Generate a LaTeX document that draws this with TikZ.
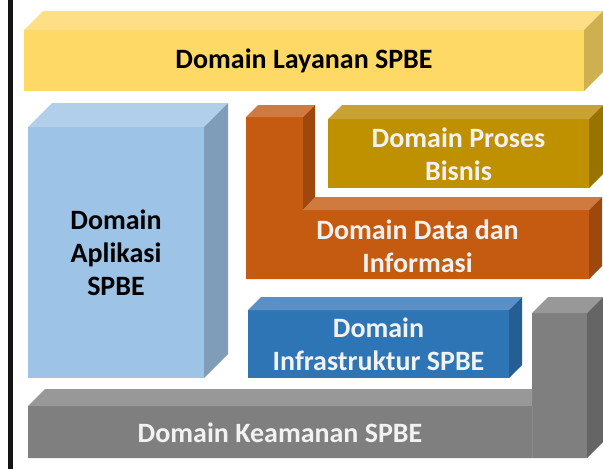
\documentclass[tikz,border=0pt]{standalone}
\usepackage{fontspec}
\setmainfont{Carlito}
\definecolor{ylF}{HTML}{FED966}
\definecolor{ylT}{HTML}{FEDF85}
\definecolor{ylS}{HTML}{CFB050}
\definecolor{lbF}{HTML}{9DC3E6}
\definecolor{lbT}{HTML}{B1CFEA}
\definecolor{lbS}{HTML}{7F9DB8}
\definecolor{orF}{HTML}{C55A11}
\definecolor{orT}{HTML}{D07A40}
\definecolor{orS}{HTML}{9E480E}
\definecolor{gdF}{HTML}{BF9000}
\definecolor{gdT}{HTML}{C9A331}
\definecolor{gdS}{HTML}{997300}
\definecolor{blF}{HTML}{2E75B6}
\definecolor{blT}{HTML}{5A90C6}
\definecolor{blS}{HTML}{255E92}
\definecolor{grF}{HTML}{7F7F7F}
\definecolor{grT}{HTML}{989898}
\definecolor{grS}{HTML}{656565}
\definecolor{txtW}{HTML}{F2F2F2}
\newcommand\prismbox[8]{%
  \fill[#6] (#1,#2) rectangle (#3,#4);
  \fill[#7] (#1,#2) -- ++(#5,-#5) -- (#3+#5,#2-#5) -- (#3,#2) -- cycle;
  \fill[#8] (#3,#2) -- (#3+#5,#2-#5) -- (#3+#5,#4-#5) -- (#3,#4) -- cycle;}
\begin{document}
\begin{tikzpicture}[x=1pt,y=-1pt,
  lbl/.style={font=\bfseries\fontsize{28}{33}\selectfont, align=center, inner sep=0pt},
  lblw/.style={lbl, text=txtW}]
\useasboundingbox (0,0) rectangle (603,469);
\fill[black!92] (8,0) rectangle (12.5,469);
% Layanan
\prismbox{24}{30}{584}{91}{19}{ylF}{ylT}{ylS}
% Aplikasi
\prismbox{28}{127}{204}{378}{24}{lbF}{lbT}{lbS}
% Data dan Informasi (L shape)
\fill[orF] (246,117) -- (303,117) -- (303,210) -- (589,210) -- (589,279) -- (246,279) -- cycle;
\fill[orT] (246,117) -- (258,105) -- (315,105) -- (303,117) -- cycle;
\fill[orS] (303,117) -- (315,105) -- (315,198) -- (303,210) -- cycle;
\fill[orT] (303,210) -- (315,197) -- (602,197) -- (589,210) -- cycle;
\fill[orS] (589,210) -- (602,197) -- (602,266) -- (589,279) -- cycle;
% Proses Bisnis
\prismbox{328}{119}{589}{188}{14}{gdF}{gdT}{gdS}
% Infrastruktur
\prismbox{248}{310}{509}{378}{13}{blF}{blT}{blS}
% Keamanan (L shape)
\fill[grF] (28,406) -- (532,406) -- (532,313) -- (587,313) -- (587,458) -- (28,458) -- cycle;
\fill[grT] (28,406) -- (45,389) -- (532,389) -- (532,406) -- cycle;
\fill[grT] (532,313) -- (548,297) -- (603,297) -- (587,313) -- cycle;
\fill[grS] (587,313) -- (603,297) -- (603,442) -- (587,458) -- cycle;
\draw[color=grF!92!white, line width=0.6pt] (532,406) -- (532,458);
% labels
\node[lbl] (layanan) at (304,61) {Domain Layanan SPBE};
\node[lbl] (aplikasi) at (116,253) {Domain\\Aplikasi\\SPBE};
\node[lblw] (proses) at (458.5,154) {Domain Proses\\Bisnis};
\node[lblw] (data) at (417.5,246) {Domain Data dan\\Informasi};
\node[lblw] (infra) at (378.5,344) {Domain\\Infrastruktur SPBE};
\node[lblw] (keamanan) at (280,433) {Domain Keamanan SPBE};
\end{tikzpicture}
\end{document}
